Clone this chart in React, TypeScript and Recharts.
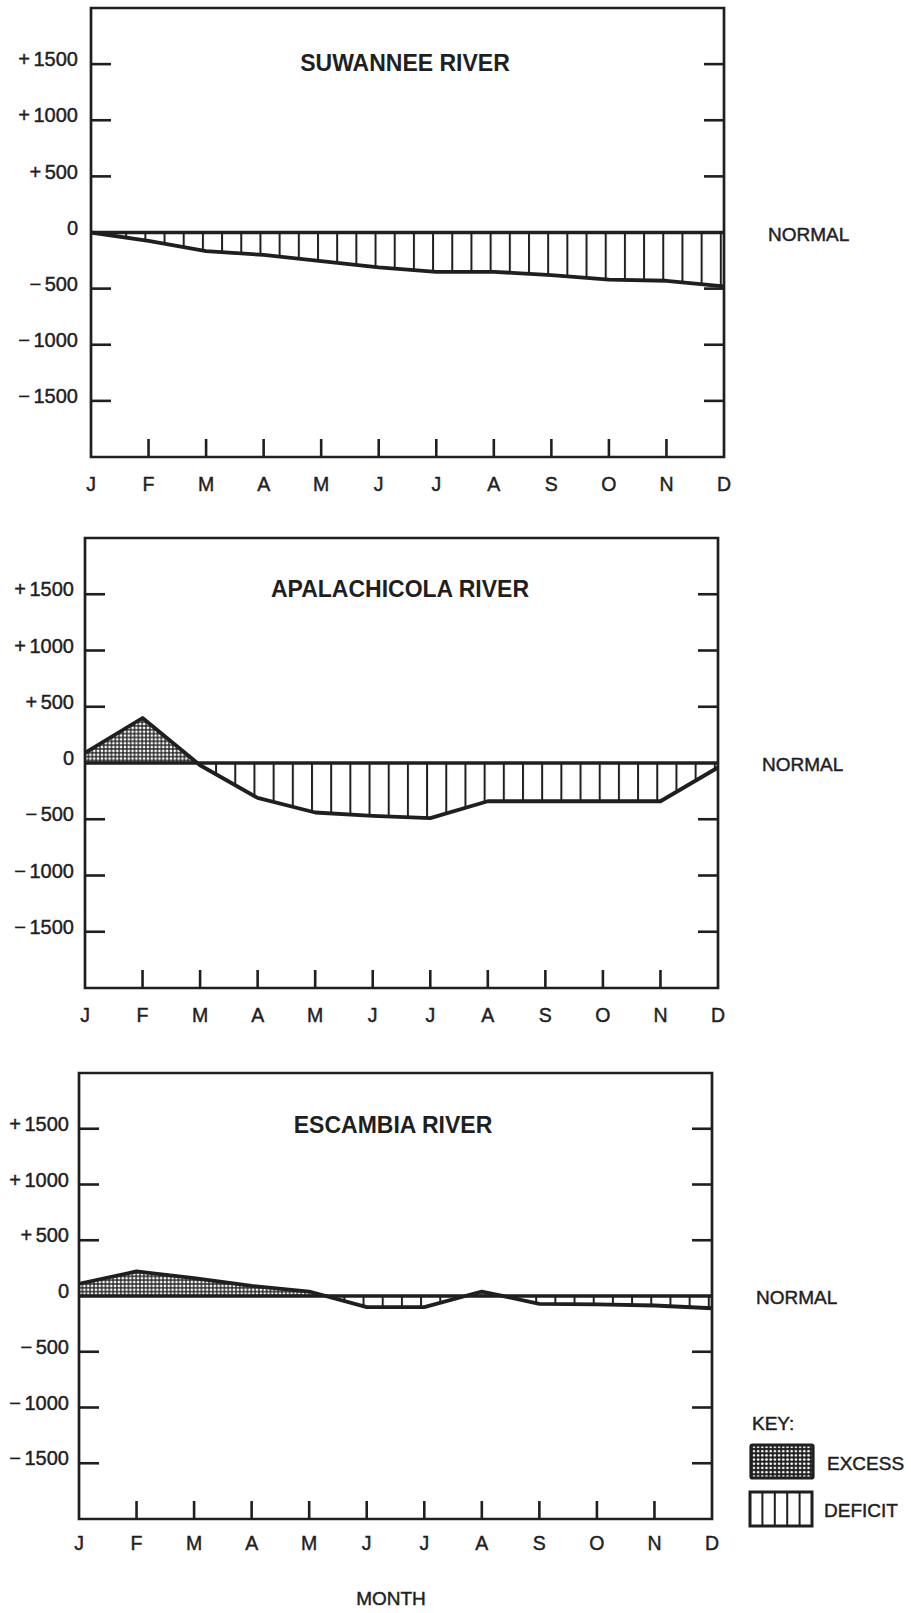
import React from 'react';
import { AreaChart, Area, XAxis, YAxis, ReferenceLine, ReferenceArea } from 'recharts';

// month initials, January..December
const months = ['J', 'F', 'M', 'A', 'M', 'J', 'J', 'A', 'S', 'O', 'N', 'D'];

// departure from normal flow
const suwannee = [0, -75, -165, -200, -255, -310, -350, -350, -380, -420, -430, -480];
const apalachicola = [90, 400, -20, -310, -440, -470, -490, -340, -340, -340, -340, -40];
const escambia = [110, 220, 160, 90, 40, -100, -100, 40, -70, -75, -85, -110];

const yTicks = [1500, 1000, 500, 0, -500, -1000, -1500];
const yDomain = [-2000, 2000];
const monthIdx = months.map((_, i) => i);

const INK = '#1f1f1f';
const FONT = '"Liberation Sans", Arial, Helvetica, sans-serif';
const PAD_TOP = 6;
const X_AXIS_H = 40;
const Y_TICK_LEN = 20;
const X_TICK_LEN = 18;

const panels = [
  { title: 'SUWANNEE RIVER', values: suwannee, left: 91, top: 8, width: 633, height: 449, labelGap: 13, monthGap: 20, titleX: 405, titleY: 71, normalX: 768, normalY: 240.5 },
  { title: 'APALACHICOLA RIVER', values: apalachicola, left: 85, top: 538, width: 633, height: 450, labelGap: 11, monthGap: 20, titleX: 400, titleY: 596.5, normalX: 762, normalY: 770.5 },
  { title: 'ESCAMBIA RIVER', values: escambia, left: 79, top: 1073, width: 633, height: 446, labelGap: 10, monthGap: 17, titleX: 393, titleY: 1133, normalX: 756, normalY: 1304 },
];

const sign = (v: number) => (v > 0 ? '+' : v < 0 ? '\u2212' : '');
const heavy = { stroke: INK, strokeWidth: 0.45 };

function makeValueTick(p: (typeof panels)[number]) {
  return (props: any) => {
    const { x, y, payload } = props;
    const v = payload.value as number;
    const axisX = x + p.labelGap;
    const rightX = axisX + p.width;
    return (
      <g>
        {v !== 0 && (
          <>
            <line x1={axisX} x2={axisX + Y_TICK_LEN} y1={y} y2={y} stroke={INK} strokeWidth={2.6} />
            <line x1={rightX - Y_TICK_LEN} x2={rightX} y1={y} y2={y} stroke={INK} strokeWidth={2.6} />
          </>
        )}
        <text x={x} y={y - 5} dy="0.36em" textAnchor="end" fontSize={20} fontFamily={FONT} fill={INK} {...heavy}>
          {v === 0 ? '0' : (
            <>
              <tspan>{sign(v)}</tspan>
              <tspan dx={3.5}>{Math.abs(v)}</tspan>
            </>
          )}
        </text>
      </g>
    );
  };
}

function makeMonthTick(p: (typeof panels)[number]) {
  return (props: any) => {
    const { x, y, payload } = props;
    const i = payload.value as number;
    const axisY = y - p.monthGap;
    return (
      <g>
        {i > 0 && i < months.length - 1 && (
          <line x1={x} x2={x} y1={axisY} y2={axisY - X_TICK_LEN} stroke={INK} strokeWidth={2.6} />
        )}
        <text x={x} y={y + 14} textAnchor="middle" fontSize={19.5} fontFamily={FONT} fill={INK} {...heavy}>
          {months[i]}
        </text>
      </g>
    );
  };
}

function RiverPanel({ p, idx }: { p: (typeof panels)[number]; idx: number }) {
  const data = months.map((m, i) => ({ i, m, v: p.values[i] }));
  const step = p.width / 33; // three hatch lines per month
  const stip = step / 5;
  const half = p.height / 2;
  return (
    <div style={{ position: 'absolute', left: 0, top: p.top - PAD_TOP }}>
      <AreaChart
        width={911}
        height={PAD_TOP + p.height + X_AXIS_H}
        data={data}
        margin={{ top: PAD_TOP, right: 911 - p.left - p.width, bottom: 0, left: 0 }}
      >
        <defs>
          <pattern id={`stip-${idx}`} patternUnits="userSpaceOnUse" width={stip} height={stip}>
            <rect width={stip} height={stip} fill={INK} />
            <rect x={0.65} y={0.65} width={stip - 1.35} height={stip - 1.35} fill="#fff" />
          </pattern>
          <pattern id={`fill-${idx}`} patternUnits="userSpaceOnUse" x={p.left + 15} y={PAD_TOP} width={step} height={p.height}>
            <rect x={0} y={0} width={step} height={half} fill={`url(#stip-${idx})`} />
            <line x1={1} x2={1} y1={half} y2={p.height} stroke={INK} strokeWidth={2} />
          </pattern>
        </defs>
        <XAxis
          dataKey="i"
          type="number"
          domain={[0, 11]}
          ticks={monthIdx}
          interval={0}
          axisLine={false}
          tickLine={false}
          tickSize={0}
          tickMargin={p.monthGap}
          height={X_AXIS_H}
          tick={makeMonthTick(p)}
        />
        <YAxis
          type="number"
          domain={yDomain}
          ticks={yTicks}
          interval={0}
          width={p.left}
          axisLine={false}
          tickLine={false}
          tickSize={0}
          tickMargin={p.labelGap}
          tick={makeValueTick(p)}
        />
        <Area
          type="linear"
          dataKey="v"
          stroke={INK}
          strokeWidth={3.8}
          strokeLinejoin="round"
          fill={`url(#fill-${idx})`}
          fillOpacity={1}
          dot={false}
          activeDot={false}
          isAnimationActive={false}
        />
        <ReferenceLine y={0} stroke={INK} strokeWidth={3.4} />
        <ReferenceArea x1={0} x2={11} y1={-2000} y2={2000} fill="none" fillOpacity={0} stroke={INK} strokeWidth={2.7} ifOverflow="visible" />
      </AreaChart>
    </div>
  );
}

export default function App() {
  const txt = { fontFamily: FONT, fill: INK, ...heavy };
  return (
    <div style={{ position: 'absolute', left: 0, top: 0, width: 911, height: 1613, background: '#fff' }}>
      {panels.map((p, i) => (
        <RiverPanel key={p.title} p={p} idx={i} />
      ))}
      <svg width={911} height={1613} style={{ position: 'absolute', left: 0, top: 0, pointerEvents: 'none' }}>
        <defs>
          <pattern id="key-stip" patternUnits="userSpaceOnUse" width={4.2} height={4.2}>
            <rect width={4.2} height={4.2} fill={INK} />
            <circle cx={2.1} cy={2.1} r={1.35} fill="#fff" />
          </pattern>
        </defs>
        {panels.map((p) => (
          <g key={p.title}>
            <text x={p.titleX} y={p.titleY} textAnchor="middle" fontSize={23} fontWeight="bold" fontFamily={FONT} fill={INK}>
              {p.title}
            </text>
            <text x={p.normalX} y={p.normalY} fontSize={19} {...txt}>
              NORMAL
            </text>
          </g>
        ))}
        <text x={752} y={1429.5} fontSize={19} {...txt}>KEY:</text>
        <rect x={751} y={1445} width={62} height={33} fill="url(#key-stip)" stroke={INK} strokeWidth={3.2} rx={1.5} />
        <text x={827} y={1470} fontSize={19} {...txt}>EXCESS</text>
        <rect x={750} y={1492} width={62} height={34} fill="#fff" stroke={INK} strokeWidth={3} />
        {[1, 2, 3, 4].map((k) => (
          <line key={k} x1={750 + (62 * k) / 5} x2={750 + (62 * k) / 5} y1={1492} y2={1526} stroke={INK} strokeWidth={2} />
        ))}
        <text x={824} y={1517} fontSize={19} {...txt}>DEFICIT</text>
        <text x={391} y={1605} textAnchor="middle" fontSize={19} {...txt}>MONTH</text>
      </svg>
    </div>
  );
}
